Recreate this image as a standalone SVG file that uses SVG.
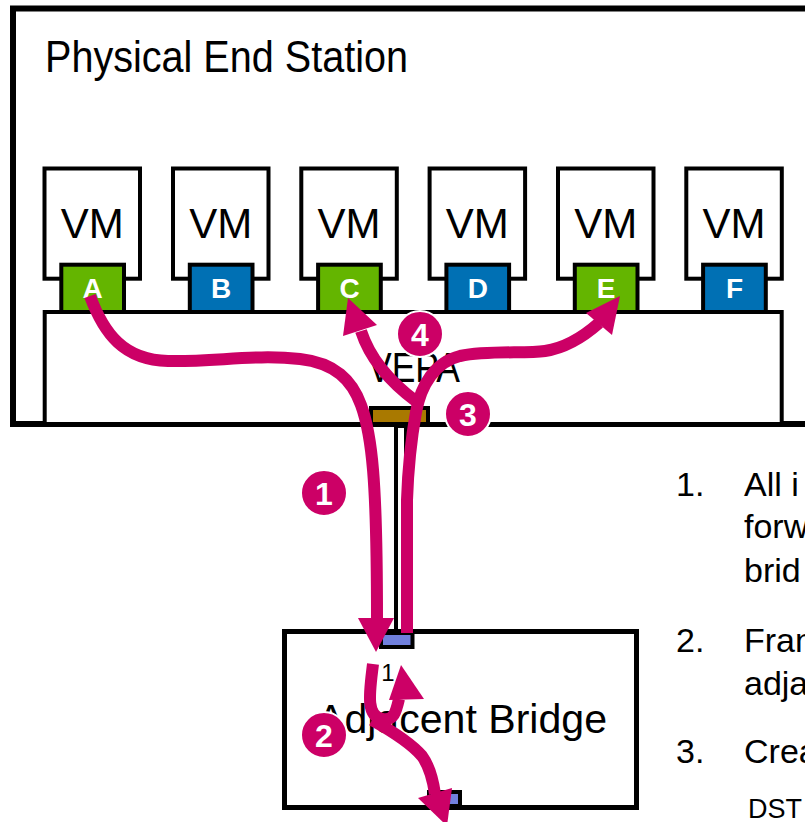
<svg xmlns="http://www.w3.org/2000/svg" width="805" height="822" viewBox="0 0 805 822">
<style>
.box{fill:#fff;stroke:#000;stroke-width:4}
.t{font-family:"Liberation Sans",Arial,sans-serif;fill:#000}
.vm{font-size:42px;text-anchor:middle}
.port{stroke:#000;stroke-width:4}
.g{fill:#64b500}
.b{fill:#0070b4}
.bp{fill:#7080dd;stroke:#000;stroke-width:4}
.pl{fill:#fff;font-family:"Liberation Sans",Arial,sans-serif;font-weight:bold;font-size:28px;text-anchor:middle}
.flow{fill:none;stroke:#cc0066;stroke-width:12}
.head{fill:#cc0066}
.badge circle{fill:#cc0066;stroke:#fff;stroke-width:2}
.badge text{fill:#fff;font-family:"Liberation Sans",Arial,sans-serif;font-weight:bold;font-size:32px;text-anchor:middle}
.list{font-size:34px}
</style>

<g id="end-station">
  <rect x="13" y="8.5" width="900" height="415.5" fill="#fff" stroke="#000" stroke-width="6"/>
  <text class="t" x="45" y="72" font-size="44" textLength="363" lengthAdjust="spacingAndGlyphs">Physical End Station</text>
</g>

<g id="vepa">
  <rect class="box" x="44.7" y="312" width="737" height="112"/>
  <text class="t" x="368" y="382" font-size="42" textLength="92" lengthAdjust="spacingAndGlyphs">VEPA</text>
</g>

<g id="vm-a">
  <rect class="box" x="44.5" y="168.5" width="95.5" height="110.2"/>
  <text class="t vm" x="92.3" y="238">VM</text>
  <rect class="port g" x="61.3" y="264.7" width="62.7" height="47.3"/>
  <text class="pl" x="92.7" y="298">A</text>
</g>
<g id="vm-b">
  <rect class="box" x="173" y="168.5" width="95.5" height="110.2"/>
  <text class="t vm" x="220.8" y="238">VM</text>
  <rect class="port b" x="189.8" y="264.7" width="62.7" height="47.3"/>
  <text class="pl" x="221.2" y="298">B</text>
</g>
<g id="vm-c">
  <rect class="box" x="301.3" y="168.5" width="95.5" height="110.2"/>
  <text class="t vm" x="349" y="238">VM</text>
  <rect class="port g" x="318.1" y="264.7" width="62.7" height="47.3"/>
  <text class="pl" x="349.5" y="298">C</text>
</g>
<g id="vm-d">
  <rect class="box" x="429.6" y="168.5" width="95.5" height="110.2"/>
  <text class="t vm" x="477.3" y="238">VM</text>
  <rect class="port b" x="446.4" y="264.7" width="62.7" height="47.3"/>
  <text class="pl" x="477.8" y="298">D</text>
</g>
<g id="vm-e">
  <rect class="box" x="558" y="168.5" width="95.5" height="110.2"/>
  <text class="t vm" x="605.7" y="238">VM</text>
  <rect class="port g" x="574.8" y="264.7" width="62.7" height="47.3"/>
  <text class="pl" x="606.2" y="298">E</text>
</g>
<g id="vm-f">
  <rect class="box" x="686.3" y="168.5" width="95.5" height="110.2"/>
  <text class="t vm" x="734" y="238">VM</text>
  <rect class="port b" x="703.1" y="264.7" width="62.7" height="47.3"/>
  <text class="pl" x="734.5" y="298">F</text>
</g>

<g id="uplink">
  <rect x="371" y="408" width="57" height="16" fill="#a97900" stroke="#000" stroke-width="4"/>
  <rect x="396" y="426" width="10" height="205" fill="#fff" stroke="#000" stroke-width="4"/>
</g>

<g id="bridge">
  <rect x="284.5" y="631.5" width="352" height="176" fill="#fff" stroke="#000" stroke-width="5"/>
  <text class="t" x="317" y="733" font-size="41" textLength="290" lengthAdjust="spacingAndGlyphs">Adjacent Bridge</text>
  <rect class="bp" x="381" y="633" width="31.5" height="14"/>
  <rect class="bp" x="429" y="792" width="31" height="14"/>
  <text class="t" x="388" y="681" font-size="24" text-anchor="middle">1</text>
</g>

<g id="connectors">
  <path class="flow" d="M90 296 C104 334 124 360 168 361 C215 362 255 354 300 359 C335 363 352 380 361 405 C372 435 377 480 377 619"/>
  <polygon class="head" points="358,618 394,618 376,652"/>
  <path class="flow" d="M407 633 L407 500 C408 470 411 440 416 412 C421 385 435 362 460 356 C490 350 525 354 545 351 C565 348 582 338 599 323"/>
  <polygon class="head" points="620,296 586,313 612,335"/>
  <path class="flow" d="M417 402 C398 388 372 365 361 331"/>
  <polygon class="head" points="348,298 343,336 377,325"/>
  <path class="flow" d="M373 664 C370 690 365 716 382 719 C394 721 396 712 399 699"/>
  <polygon class="head" points="401,665 389,700 424,699"/>
  <path class="flow" d="M372 720 C390 730 410 742 422 756 C430 767 433 780 435 794"/>
  <polygon class="head" points="418,798 452,788 447,826"/>
</g>

<g id="badges">
  <g class="badge" id="badge-1"><circle cx="324" cy="493" r="23"/><text x="324" y="504.5">1</text></g>
  <g class="badge" id="badge-2"><circle cx="324" cy="735" r="23"/><text x="324" y="746.5">2</text></g>
  <g class="badge" id="badge-3"><circle cx="468" cy="414" r="23"/><text x="468" y="425.5">3</text></g>
  <g class="badge" id="badge-4"><circle cx="420" cy="334" r="23"/><text x="420" y="345.5">4</text></g>
</g>

<g id="steps" class="t list">
  <text x="676" y="496">1.</text>
  <text x="744" y="496">All i</text>
  <text x="744" y="538">forw</text>
  <text x="744" y="582">brid</text>
  <text x="676" y="652">2.</text>
  <text x="744" y="652">Fran</text>
  <text x="744" y="695">adja</text>
  <text x="676" y="763">3.</text>
  <text x="744" y="763">Crea</text>
  <text x="748" y="818" font-size="27">DST</text>
</g>
</svg>
